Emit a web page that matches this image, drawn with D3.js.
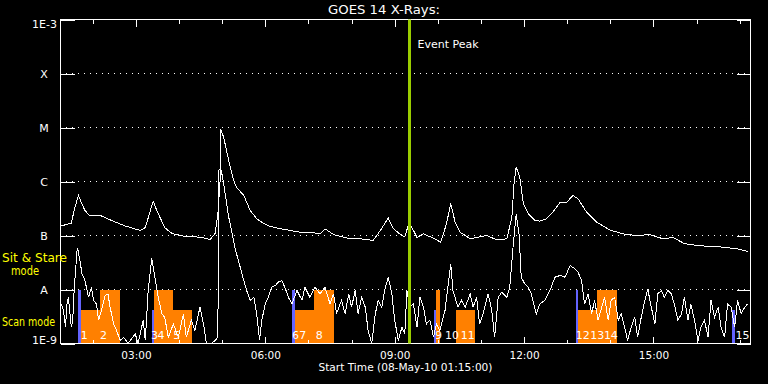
<!DOCTYPE html>
<html>
<head>
<script src="https://d3js.org/d3.v7.min.js"></script>
<style>
  body { margin: 0; background: #000; }
  svg text { font-family: "DejaVu Sans", sans-serif; fill: #fff; }
</style>
</head>
<body>
<svg id="chart" width="768" height="384"></svg>
<script>
// time range of the plot and the flare marker
var startTime = "2010-05-08 01:15";
var endTime = "2010-05-08 17:15";
var peakTime = "2010-05-08 09:20";

// log axis decades and their names
var decades = [1e-9, 1e-8, 1e-7, 1e-6, 1e-5, 1e-4, 1e-3];
var decadeLabels = ["1E-9", "A", "B", "C", "M", "X", "1E-3"];

// 1-8 A channel: minutes after start, flux (W/m^2)
var longMin = [1,15,20,25,29,34,41,57,71,90,
  111,118,125,129,134,145,155,173,196,208,
  215,219,222,223,227,234,241,245,255,264,
  273,282,292,306,320,333,347,361,368,380,
  398,417,435,445,456,463,472,479,485,489,
  496,505,519,529,537,543,549,556,570,593,
  607,621,628,631,634,639,644,651,660,667,
  676,685,695,704,713,720,732,746,764,783,
  801,820,838,852,868,886,903,921,940,956];
var longFlux = [1.5e-7,1.7e-7,3.3e-7,5.5e-7,4.1e-7,2.9e-7,2.3e-7,2.3e-7,1.9e-7,1.5e-7,
  1.24e-7,1.4e-7,2.9e-7,4.3e-7,2.9e-7,1.4e-7,1.09e-7,9.6e-8,9.3e-8,8.4e-8,
  1.09e-7,2.55e-7,1.04e-6,9.2e-6,6.6e-6,2.45e-6,1.04e-6,7.8e-7,5.5e-7,2.9e-7,
  2.04e-7,1.69e-7,1.47e-7,1.33e-7,1.24e-7,1.15e-7,1.15e-7,1.07e-7,1.33e-7,1.04e-7,
  9.0e-8,8.7e-8,8.1e-8,1.24e-7,2.1e-7,1.35e-7,1.07e-7,9.4e-8,1.74e-7,1.4e-7,
  9.2e-8,1.07e-7,8.9e-8,7.5e-8,1.65e-7,3.9e-7,1.76e-7,1.15e-7,8.7e-8,1.0e-7,
  8.3e-8,8.7e-8,2.18e-7,9.0e-7,1.84e-6,1.2e-6,3.9e-7,2.5e-7,1.9e-7,1.85e-7,
  2.04e-7,2.7e-7,4.1e-7,4.1e-7,5.5e-7,4.8e-7,2.7e-7,1.76e-7,1.27e-7,1.07e-7,
  1.0e-7,1.04e-7,8.7e-8,9.2e-8,7.1e-8,6.5e-8,6.3e-8,6.1e-8,5.7e-8,5.1e-8];

// 0.5-4 A channel
var shortMin = [1,4,7,9,11,15,17,19,23,24,
  27,30,34,39,43,46,50,53,57,62,
  66,69,74,78,83,88,94,104,108,115,
  118,122,127,132,136,141,145,150,157,164,
  171,175,182,187,194,199,203,210,215,219,
  220,223,225,227,234,239,243,250,255,259,
  264,269,273,277,280,285,289,294,299,303,
  308,313,317,322,329,336,340,347,354,361,
  368,375,380,384,391,396,401,405,410,414,
  419,424,428,433,438,442,447,451,456,461,
  465,470,475,479,482,486,491,496,500,505,
  509,514,519,523,528,535,539,543,546,553,
  558,563,570,574,579,583,588,595,600,604,
  609,614,621,625,630,634,638,641,646,651,
  655,662,667,674,681,688,695,702,709,716,
  720,725,729,734,739,743,748,753,757,762,
  766,771,776,780,785,789,794,799,803,808,
  813,817,822,827,831,836,840,845,850,855,
  859,864,868,873,877,882,887,891,896,901,
  905,910,915,919,924,928,933,938,942,947,
  952,956];
var shortFlux = [5.4e-9,4.1e-9,2.0e-9,5.4e-9,7.2e-9,2.0e-9,2.7e-9,9.6e-9,5.3e-8,5.7e-8,
  3.4e-8,1.95e-8,1.47e-8,7.2e-9,1.1e-8,6.3e-9,5.4e-9,2.7e-9,4.1e-9,7.7e-9,
  8.3e-9,4.7e-9,2.3e-9,1.74e-9,1.14e-9,1.3e-9,1.0e-9,1.5e-9,1.0e-9,2.7e-9,
  1.14e-9,9.6e-9,3.75e-8,1.47e-8,7.2e-9,3.55e-9,3.07e-9,1.3e-9,2.3e-9,1.3e-9,
  3.55e-9,1.3e-9,2.7e-9,1.74e-9,4.7e-9,2.3e-9,1.0e-9,1.0e-9,1.14e-9,1.3e-9,
  1.6e-6,1.74e-6,1.29e-6,9.0e-7,2.2e-7,1.07e-7,5.7e-8,2.6e-8,1.47e-8,9.6e-9,
  6.3e-9,7.2e-9,3.55e-9,1.14e-9,2.7e-9,5.4e-9,7.2e-9,1.1e-8,1.19e-8,1.37e-8,
  1.47e-8,1.03e-8,7.2e-9,5.4e-9,9.6e-9,6.3e-9,1.1e-8,7.2e-9,1.1e-8,8.3e-9,
  1.1e-8,5.4e-9,8.3e-9,3.55e-9,6.3e-9,3.55e-9,8.3e-9,4.7e-9,9.6e-9,3.55e-9,
  7.2e-9,4.7e-9,1.74e-9,1.0e-9,3.55e-9,6.3e-9,4.7e-9,9.6e-9,1.69e-8,8.3e-9,
  2.7e-9,1.14e-9,2.0e-9,1.5e-9,9.6e-9,4.7e-9,5.4e-9,2.0e-9,7.2e-9,4.7e-9,
  2.3e-9,2.7e-9,1.3e-9,2.3e-9,1.74e-9,4.1e-9,1.1e-8,3.0e-8,9.6e-9,4.7e-9,
  6.3e-9,4.7e-9,8.3e-9,4.7e-9,7.2e-9,2.3e-9,3.55e-9,8.3e-9,4.1e-9,1.3e-9,
  7.2e-9,8.9e-9,7.2e-9,1.1e-8,7.0e-8,2.5e-7,1.07e-7,1.69e-8,1.27e-8,1.1e-8,
  8.3e-9,3.55e-9,5.4e-9,6.3e-9,9.6e-9,1.69e-8,1.82e-8,1.69e-8,2.78e-8,2.4e-8,
  2.1e-8,1.47e-8,5.4e-9,8.3e-9,3.55e-9,6.3e-9,2.7e-9,4.7e-9,7.2e-9,2.7e-9,
  6.3e-9,7.2e-9,2.7e-9,3.55e-9,2.0e-9,1.14e-9,2.0e-9,3.07e-9,1.3e-9,3.07e-9,
  6.3e-9,1.03e-8,4.7e-9,2.3e-9,8.3e-9,9.6e-9,7.2e-9,9.6e-9,8.3e-9,4.7e-9,
  2.7e-9,3.55e-9,7.2e-9,2.7e-9,5.4e-9,2.7e-9,1.14e-9,2.0e-9,2.7e-9,1.3e-9,
  6.3e-9,3.07e-9,4.7e-9,2.0e-9,1.3e-9,5.4e-9,4.7e-9,2.0e-9,6.3e-9,3.55e-9,
  4.7e-9,5.4e-9];

// observing-mode blocks (minutes after start); mode 1 = sit & stare, 0.5 = scan
var blockStart = [25,29,55, 127,130,157, 322,326,353, 520,522,550, 717,720,746, 934];
var blockEnd   = [29,55,83, 130,157,183, 326,353,380, 522,528,576, 720,746,774, 938];
var blockMode  = [1,0.5,1, 0.5,1,0.5, 1,0.5,1, 0.5,1,0.5, 1,0.5,1, 0.5];
var blockType  = ["p","o","o", "p","o","o", "p","o","o", "p","o","o", "p","o","o", "p"];

// observation numbers
var obsMin = [28,55,126,135,157,322,332,355,521,535,557,717,737,756,939];
var obsText = ["1","2","3","4","5","6","7","8","9","10","11","12","13","14","15"];

var parse = d3.utcParse("%Y-%m-%d %H:%M");
var t0 = parse(startTime), t1 = parse(endTime);
function at(m) { return new Date(t0.getTime() + m * 60000); }

var svg = d3.select("#chart");
svg.append("rect").attr("width", 768).attr("height", 384).attr("fill", "#000");

var x = d3.scaleUtc().domain([t0, t1]).range([60.5, 750.5]);
var y = d3.scaleLog().domain([1e-9, 1e-3]).range([343.5, 19.5]);
// scan blocks stop lower than the sit & stare ones
var modeHalf = y(4.2e-9);

// dotted decade lines
svg.append("g").selectAll("line")
  .data(decades.slice(1, -1))
  .join("line")
  .attr("x1", 60.5).attr("x2", 750.5)
  .attr("y1", function(d) { return y(d); })
  .attr("y2", function(d) { return y(d); })
  .attr("stroke", "#fff")
  .attr("stroke-dasharray", "1,5")
  .attr("stroke-dashoffset", -5)
  .attr("shape-rendering", "crispEdges");

// mode blocks
svg.append("g").selectAll("rect")
  .data(blockStart)
  .join("rect")
  .attr("x", function(d) { return x(at(d)); })
  .attr("width", function(d, i) { return x(at(blockEnd[i])) - x(at(d)); })
  .attr("y", function(d, i) { return blockMode[i] == 1 ? y(1e-8) : modeHalf; })
  .attr("height", function(d, i) { return 343.5 - (blockMode[i] == 1 ? y(1e-8) : modeHalf); })
  .attr("fill", function(d, i) { return blockType[i] == "p" ? "#6464ff" : "#ff8000"; })
  .attr("shape-rendering", "crispEdges");

svg.append("g").selectAll("text")
  .data(obsMin)
  .join("text")
  .attr("x", function(d) { return x(at(d)); })
  .attr("y", 339)
  .attr("font-size", 11)
  .text(function(d, i) { return obsText[i]; });

// axes, ticks inside the box
function clean(g) {
  g.select(".domain").remove();
  g.attr("color", "#fff").attr("font-family", null).attr("font-size", null);
  g.selectAll("line").attr("shape-rendering", "crispEdges");
}
svg.append("g").attr("transform", "translate(0,19.5)")
  .call(d3.axisTop(x).ticks(d3.utcHour.every(1)).tickSize(-4).tickFormat("")).call(clean);
svg.append("g").attr("transform", "translate(0,19.5)")
  .call(d3.axisTop(x).ticks(d3.utcHour.every(3)).tickSize(-7).tickFormat("")).call(clean);
svg.append("g").attr("transform", "translate(0,343.5)")
  .call(d3.axisBottom(x).ticks(d3.utcHour.every(1)).tickSize(-4).tickFormat("")).call(clean);
svg.append("g").attr("transform", "translate(0,343.5)")
  .call(d3.axisBottom(x).ticks(d3.utcHour.every(3)).tickSize(-7).tickPadding(8)
    .tickFormat(d3.utcFormat("%H:%M")))
  .call(clean)
  .selectAll("text").attr("font-size", 10.5);
svg.append("g").attr("transform", "translate(60.5,0)")
  .call(d3.axisLeft(y).tickValues(decades).tickSize(-14).tickFormat("")).call(clean);
svg.append("g").attr("transform", "translate(750.5,0)")
  .call(d3.axisRight(y).tickValues(decades).tickSize(-14).tickFormat("")).call(clean);

svg.append("rect")
  .attr("x", 60.5).attr("y", 19.5).attr("width", 690).attr("height", 324)
  .attr("fill", "none").attr("stroke", "#fff").attr("shape-rendering", "crispEdges");

// decade names
svg.append("g").selectAll("text")
  .data(decades)
  .join("text")
  .attr("font-size", 11)
  .attr("text-anchor", function(d, i) { return decadeLabels[i].length > 1 ? "end" : "middle"; })
  .attr("x", function(d, i) { return decadeLabels[i].length > 1 ? 57 : 44; })
  .attr("y", function(d, i) {
    if (i == 0) return y(d);
    if (i == decades.length - 1) return y(d) + 8;
    return y(d) + 4;
  })
  .text(function(d, i) { return decadeLabels[i]; });

// flux curves
var longLine = d3.line()
  .x(function(d) { return x(at(longMin[d])); })
  .y(function(d) { return y(longFlux[d]); });
var shortLine = d3.line()
  .x(function(d) { return x(at(shortMin[d])); })
  .y(function(d) { return y(Math.max(shortFlux[d], 1e-9)); });

svg.append("path").attr("d", longLine(d3.range(longMin.length)))
  .attr("fill", "none").attr("stroke", "#fff").attr("stroke-width", 1)
  .attr("shape-rendering", "crispEdges");
svg.append("path").attr("d", shortLine(d3.range(shortMin.length)))
  .attr("fill", "none").attr("stroke", "#fff").attr("stroke-width", 1)
  .attr("shape-rendering", "crispEdges");

// event peak
var px = Math.round(x(parse(peakTime))) + 0.5;
svg.append("line").attr("x1", px).attr("x2", px).attr("y1", 19.5).attr("y2", 343.5)
  .attr("stroke", "#9acd00").attr("stroke-width", 3);
svg.append("text").attr("x", px + 8).attr("y", 48).attr("font-size", 11).text("Event Peak");

// titles
svg.append("text").attr("x", 384).attr("y", 14).attr("text-anchor", "middle")
  .attr("font-size", 11.5).attr("textLength", 112).attr("lengthAdjust", "spacingAndGlyphs")
  .text("GOES 14 X-Rays:");
svg.append("text").attr("x", 405.5).attr("y", 371).attr("text-anchor", "middle")
  .attr("font-size", 10.5).attr("textLength", 174).attr("lengthAdjust", "spacingAndGlyphs")
  .text("Start Time (08-May-10 01:15:00)");

// mode legend
var yellow = "#ffff00";
svg.append("text").attr("x", 2).attr("y", 262).attr("font-size", 12)
  .attr("textLength", 65).attr("lengthAdjust", "spacingAndGlyphs")
  .style("fill", yellow).text("Sit & Stare");
svg.append("text").attr("x", 11).attr("y", 275).attr("font-size", 12)
  .attr("textLength", 28).attr("lengthAdjust", "spacingAndGlyphs")
  .style("fill", yellow).text("mode");
svg.append("text").attr("x", 2).attr("y", 326).attr("font-size", 11.5)
  .attr("textLength", 53).attr("lengthAdjust", "spacingAndGlyphs")
  .style("fill", yellow).text("Scan mode");
</script>
</body>
</html>
